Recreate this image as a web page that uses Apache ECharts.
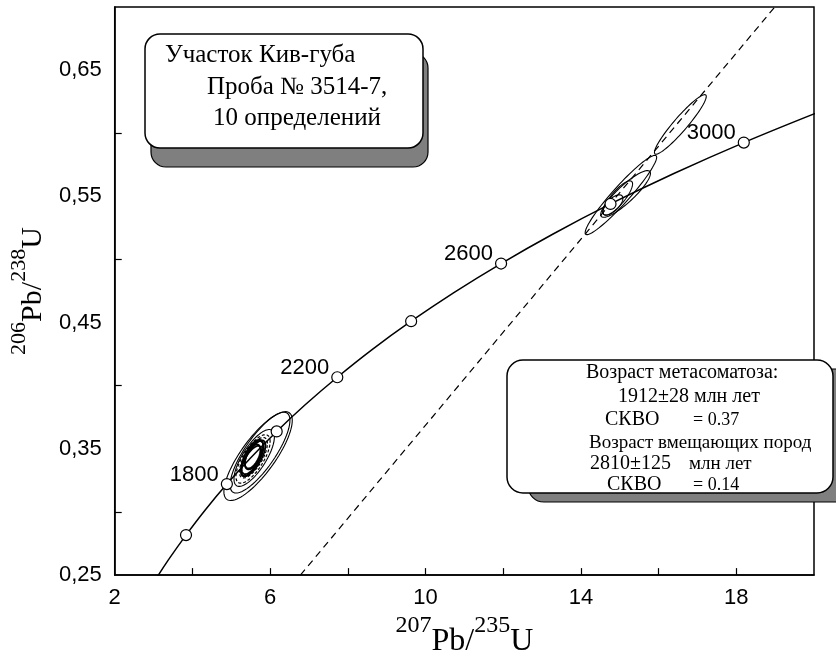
<!DOCTYPE html>
<html><head><meta charset="utf-8">
<script src="https://cdn.jsdelivr.net/npm/echarts@6/dist/echarts.min.js"></script>
<style>html,body{margin:0;padding:0;background:#fff}#c{width:836px;height:663px}</style>
</head><body><div id="c"></div>
<script>
// Concordia curve (age in Ma -> 207Pb/235U, 206Pb/238U)
const concAges = [1400,1500,1600,1700,1800,1900,2000,2100,2200,2300,2400,2500,2600,2700,2800,2900,3000,3100];
const concX = [2.970,3.381,3.835,4.335,4.887,5.496,6.169,6.910,7.729,8.633,9.630,10.730,11.945,13.284,14.762,16.393,18.193,20.180];
const concY = [0.2426,0.2620,0.2817,0.3018,0.3221,0.3428,0.3638,0.3851,0.4067,0.4288,0.4511,0.4738,0.4968,0.5202,0.5440,0.5681,0.5926,0.6175];
// Age marks on concordia
const markAges = [1600,1800,2000,2200,2400,2600,2800,3000];
const markX = [3.835,4.887,6.169,7.729,9.630,11.945,14.762,18.193];
const markY = [0.2817,0.3221,0.3638,0.4067,0.4511,0.4968,0.5440,0.5926];
const labelledAges = [1800,2200,2600,3000];
// Discordia (dashed)
const discX = [6.78,18.99];
const discY = [0.25,0.70];
// Error ellipses: [cx, cy, sx, sy, rho]
const ellOuter = [
  [5.69,0.3443,0.88,0.0352,0.80],
  [5.74,0.3470,0.77,0.0320,0.80],
  [5.59,0.3428,0.52,0.0225,0.74],
  [15.03,0.5511,0.92,0.0314,0.95],
  [15.15,0.5519,0.64,0.0185,0.88],
  [14.95,0.5487,0.38,0.0136,0.82],
  [14.82,0.5432,0.26,0.0080,0.65],
  [16.56,0.6070,0.667,0.0236,0.94]
];
const ellCore = [
  [5.54,0.3436,0.28,0.0136,0.65],
  [5.59,0.3450,0.24,0.0112,0.60],
  [5.51,0.3404,0.26,0.0120,0.70],
  [5.57,0.3425,0.31,0.0142,0.72],
  [5.55,0.3440,0.20,0.0095,0.55]
];
const ellDashed = [
  [5.56,0.3420,0.44,0.0192,0.72],
  [5.57,0.3430,0.36,0.0160,0.70]
];
// Axis ticks / labels
const xLabelValues = [2,6,10,14,18];
const xTickValues = [4,6,8,10,12,14,16,18];
const yLabelValues = [0.25,0.35,0.45,0.55,0.65];
const yTickValues = [0.30,0.40,0.50,0.60];

const chart = echarts.init(document.getElementById('c'), null, {renderer:'canvas'});

function ellipseSeries(name, data, lw, dash){
  return {
    type:'custom', name, data, coordinateSystem:'cartesian2d',
    encode:{x:0,y:1}, z:3, silent:true,
    renderItem(params, api){
      const cx=api.value(0), cy=api.value(1), sx=api.value(2), sy=api.value(3), r=api.value(4);
      const k=Math.sqrt(1-r*r), pts=[];
      for(let i=0;i<90;i++){
        const t=i/90*2*Math.PI;
        pts.push(api.coord([cx+sx*Math.cos(t), cy+sy*(r*Math.cos(t)+k*Math.sin(t))]));
      }
      return {type:'polygon', shape:{points:pts},
        style:{fill:'none', stroke:'#000', lineWidth:lw, lineDash:dash||null}};
    }
  };
}

const serif = '"Liberation Serif","Times New Roman",serif';
const sans = '"Liberation Sans",Arial,sans-serif';

const markData = markX.map((x,i)=>{
  const item = {value:[x, markY[i]]};
  if (labelledAges.indexOf(markAges[i])>=0){
    item.label = {show:true, position:'left', distance:2, offset:[0,-9.5],
      formatter:String(markAges[i]), fontSize:22, fontFamily:sans, color:'#000', opacity:1};
  }
  return item;
});

function txt(x,y,s,size){
  return {type:'text', x, y, z:120,
    style:{text:s, fontSize:size, fontFamily:serif, fill:'#000', verticalAlign:'middle', align:'left'}};
}

const option = {
  animation:false,
  backgroundColor:'#fff',
  grid:{left:112, right:22, top:7, bottom:82, show:true, borderColor:'#000', borderWidth:1.5, backgroundColor:'transparent'},
  xAxis:{
    type:'value', min:2, max:20, interval:2,
    axisLine:{show:true, onZero:false, lineStyle:{color:'#000', width:1.5}},
    axisTick:{show:true, inside:true, length:7, customValues:xTickValues, lineStyle:{color:'#000', width:1.2}},
    axisLabel:{show:true, customValues:xLabelValues, margin:12, fontSize:22, fontFamily:sans, color:'#000',
      formatter:v=> (Math.round(v-2)%4===0 ? String(v) : '')},
    splitLine:{show:false},
    name:'{sup|207}{main|Pb/}{sup|235}{main|U}', nameLocation:'middle', nameGap:36,
    nameTextStyle:{fontFamily:serif, color:'#000', rich:{
      sup:{fontSize:24, fontFamily:serif, color:'#000', verticalAlign:'top', lineHeight:24},
      main:{fontSize:32, fontFamily:serif, color:'#000', verticalAlign:'bottom', lineHeight:44}
    }}
  },
  yAxis:{
    type:'value', min:0.25, max:0.70, interval:0.05,
    axisLine:{show:true, onZero:false, lineStyle:{color:'#000', width:1.5}},
    axisTick:{show:true, inside:true, length:7, customValues:yTickValues, lineStyle:{color:'#000', width:1.2}},
    axisLabel:{show:true, customValues:yLabelValues, margin:13, fontSize:22, fontFamily:sans, color:'#000',
      formatter:v=> (Math.round(v*100)%10===5 ? v.toFixed(2).replace('.',',') : '')},
    splitLine:{show:false},
    name:'{sup|206}{main|Pb/}{sup|238}{main|U}', nameLocation:'middle', nameGap:64, nameRotate:90,
    nameTextStyle:{fontFamily:serif, color:'#000', rich:{
      sup:{fontSize:22, fontFamily:serif, color:'#000', verticalAlign:'top', lineHeight:22},
      main:{fontSize:30, fontFamily:serif, color:'#000', verticalAlign:'bottom', lineHeight:40}
    }}
  },
  series:[
    {type:'line', name:'concordia', data:concX.map((x,i)=>[x,concY[i]]), smooth:0.4,
      showSymbol:false, symbol:'none', clip:true, z:2, silent:true,
      lineStyle:{color:'#000', width:1.5}},
    {type:'line', name:'discordia', data:discX.map((x,i)=>[x,discY[i]]), showSymbol:false, symbol:'none',
      clip:true, z:2, silent:true, lineStyle:{color:'#000', width:1.2, type:[7,5]}},
    ellipseSeries('outer', ellOuter, 1.1),
    ellipseSeries('core', ellCore, 1.8),
    ellipseSeries('dashed', ellDashed, 1.2, [3,2]),
    {type:'scatter', name:'ages', data:markData, symbol:'circle', symbolSize:11, z:6, silent:true,
      itemStyle:{color:'#fff', borderColor:'#000', borderWidth:1.2, opacity:1}}
  ],
  graphic:[
    {type:'rect', z:100, shape:{x:151,y:53,width:277,height:114,r:15}, style:{fill:'#7f7f7f', stroke:'#000', lineWidth:1.2}},
    {type:'rect', z:101, shape:{x:145,y:34,width:278,height:114,r:15}, style:{fill:'#fff', stroke:'#000', lineWidth:1.5}},
    txt(165,55,'Участок Кив-губа',25),
    txt(207,87,'Проба № 3514-7,',25),
    txt(213,118,'10 определений',25),
    {type:'rect', z:100, shape:{x:528,y:369,width:330,height:133,r:16}, style:{fill:'#7f7f7f', stroke:'#000', lineWidth:1.2}},
    {type:'rect', z:101, shape:{x:507,y:360,width:326,height:133,r:16}, style:{fill:'#fff', stroke:'#000', lineWidth:1.5}},
    txt(586,373,'Возраст метасоматоза:',20),
    txt(618,397,'1912±28 млн лет',20),
    txt(605,420,'СКВО',20),
    txt(693,420,'= 0.37',18),
    txt(589,443,'Возраст вмещающих пород',19),
    txt(590,464,'2810±125',20),
    txt(689,464,'млн лет',19),
    txt(607,485,'СКВО',20),
    txt(693,485,'= 0.14',18)
  ]
};
chart.setOption(option);
</script>
</body></html>
